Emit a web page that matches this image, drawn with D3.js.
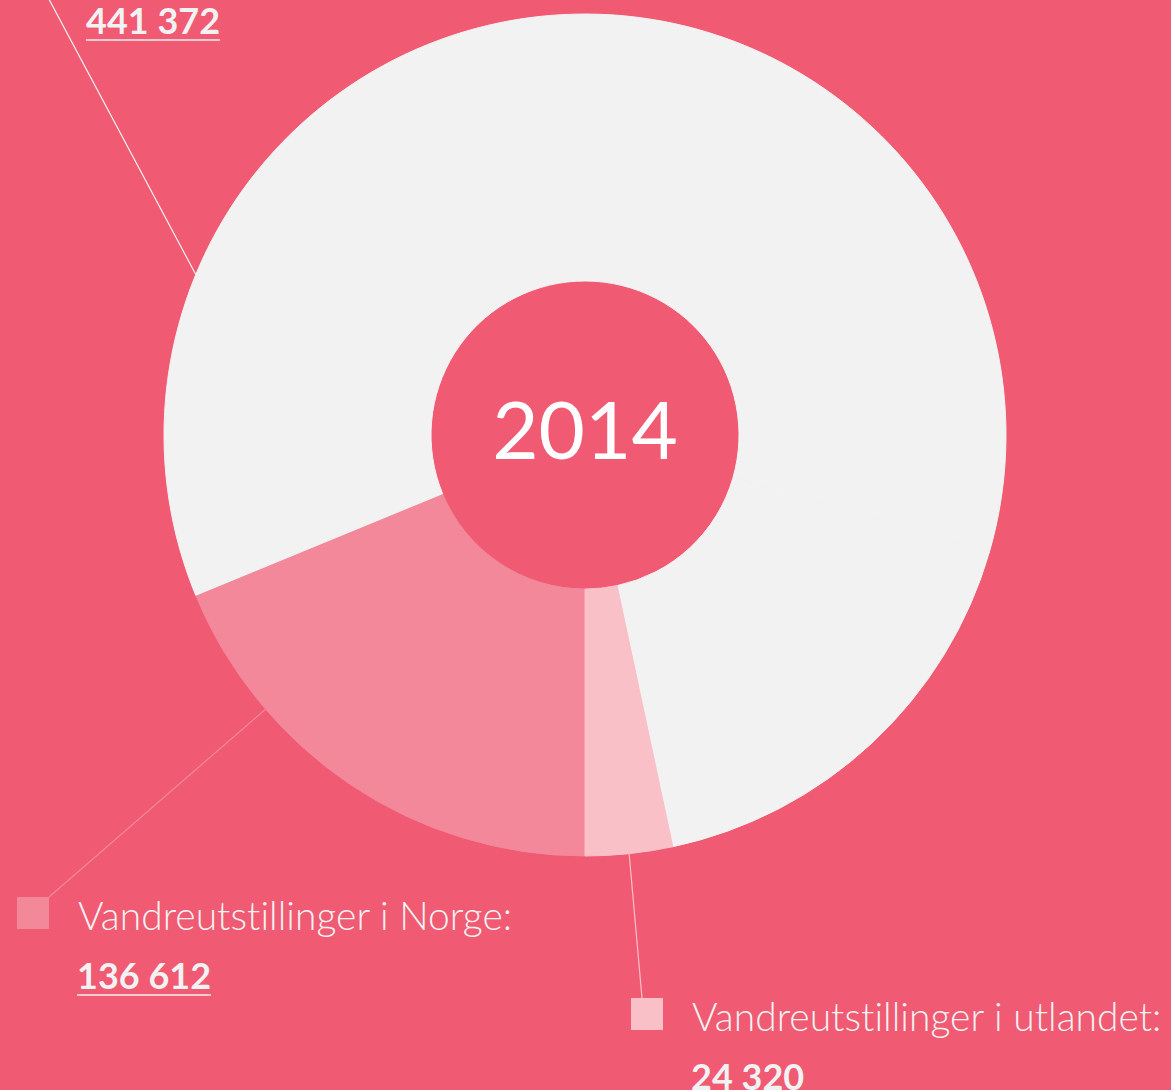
<!DOCTYPE html>
<html>
<head>
<meta charset="utf-8">
<script src="https://cdn.jsdelivr.net/npm/d3@7"></script>
<style>
  body { margin: 0; background: #F05A72; }
  svg { display: block; }
  text { font-variant-ligatures: none; }
</style>
</head>
<body>
<svg width="1171" height="1090"></svg>
<script>
// slices, in drawing order (clockwise from the bottom)
// the title of the big slice sits above the picture, so it is left empty
const categories = ["Vandreutstillinger i Norge:", "", "", "Vandreutstillinger i utlandet:"];
const values = [136612, 441372, 125000, 24320]; // 3rd one has no label, read from the gap in the ring
const sliceColors = ["#F2889A", "#F2F2F2", "#F2F2F2", "#F9C1C7"];
const year = "2014";

const bg = "#F05A72";
const width = 1171;
const height = 1090;
const cx = 585, cy = 435;
const innerR = 154, outerR = 421;

// where the legend for each slice goes, and where its leader hits the ring
const legendLayout = [
    { x: 17, y: 897, lineFrom: [49, 897], at: 0.73 },
    { x: 26, y: -58, lineFrom: [19, -57], at: 0.205 },
    null,
    { x: 631, y: 998, lineFrom: [642, 998], at: 0.5 }
];

const fmt = d3.formatLocale({ decimal: ",", thousands: " ", grouping: [3] }).format(",d");

const svg = d3.select('svg');
svg.append('rect')
    .attr('width', width)
    .attr('height', height)
    .attr('fill', bg);

const pie = d3.pie()
    .sort(null)
    .value(d => d)
    .startAngle(Math.PI)
    .endAngle(3 * Math.PI);

const arc = d3.arc()
    .innerRadius(innerR)
    .outerRadius(outerR);

const arcs = pie(values);

const chart = svg.append('g')
    .attr('transform', `translate(${cx}, ${cy})`);

// stroke in the fill colour so the two same-coloured slices show no seam
chart.selectAll('path')
    .data(arcs)
    .enter()
    .append('path')
    .attr('d', arc)
    .attr('fill', (d, i) => sliceColors[i])
    .attr('stroke', (d, i) => sliceColors[i])
    .attr('stroke-width', 1);

chart.append('text')
    .attr('x', 0)
    .attr('y', 24)
    .attr('text-anchor', 'middle')
    .attr('fill', '#ffffff')
    .style('font-family', 'Lato, sans-serif')
    .style('font-weight', 400)
    .style('font-size', '80px')
    .text(year);

// leaders + legends
arcs.forEach((d, i) => {
    const l = legendLayout[i];
    if (!l) return;
    const a = d.startAngle + (d.endAngle - d.startAngle) * l.at;
    const ex = cx + outerR * Math.sin(a);
    const ey = cy - outerR * Math.cos(a);

    svg.append('line')
        .attr('x1', l.lineFrom[0])
        .attr('y1', l.lineFrom[1])
        .attr('x2', ex)
        .attr('y2', ey)
        .attr('stroke', sliceColors[i])
        .attr('stroke-width', 1.2);

    svg.append('rect')
        .attr('x', l.x)
        .attr('y', l.y)
        .attr('width', 32)
        .attr('height', 32)
        .attr('fill', sliceColors[i]);

    if (categories[i]) {
        svg.append('text')
            .attr('x', l.x + 61)
            .attr('y', l.y + 33)
            .attr('fill', '#F2F2F2')
            .style('font-family', 'Lato, sans-serif')
            .style('font-weight', 300)
            .style('font-size', '39px')
            .text(categories[i]);
    }

    const val = svg.append('text')
        .attr('x', l.x + 60)
        .attr('y', l.y + 92)
        .attr('fill', '#F2F2F2')
        .style('font-family', 'Lato, sans-serif')
        .style('font-weight', 700)
        .style('font-size', '36px')
        .text(fmt(d.data));

    const w = val.node().getComputedTextLength();
    svg.append('line')
        .attr('x1', l.x + 60)
        .attr('x2', l.x + 60 + w)
        .attr('y1', l.y + 98)
        .attr('y2', l.y + 98)
        .attr('stroke', '#F2F2F2')
        .attr('stroke-width', 1.5);
});
</script>
</body>
</html>
